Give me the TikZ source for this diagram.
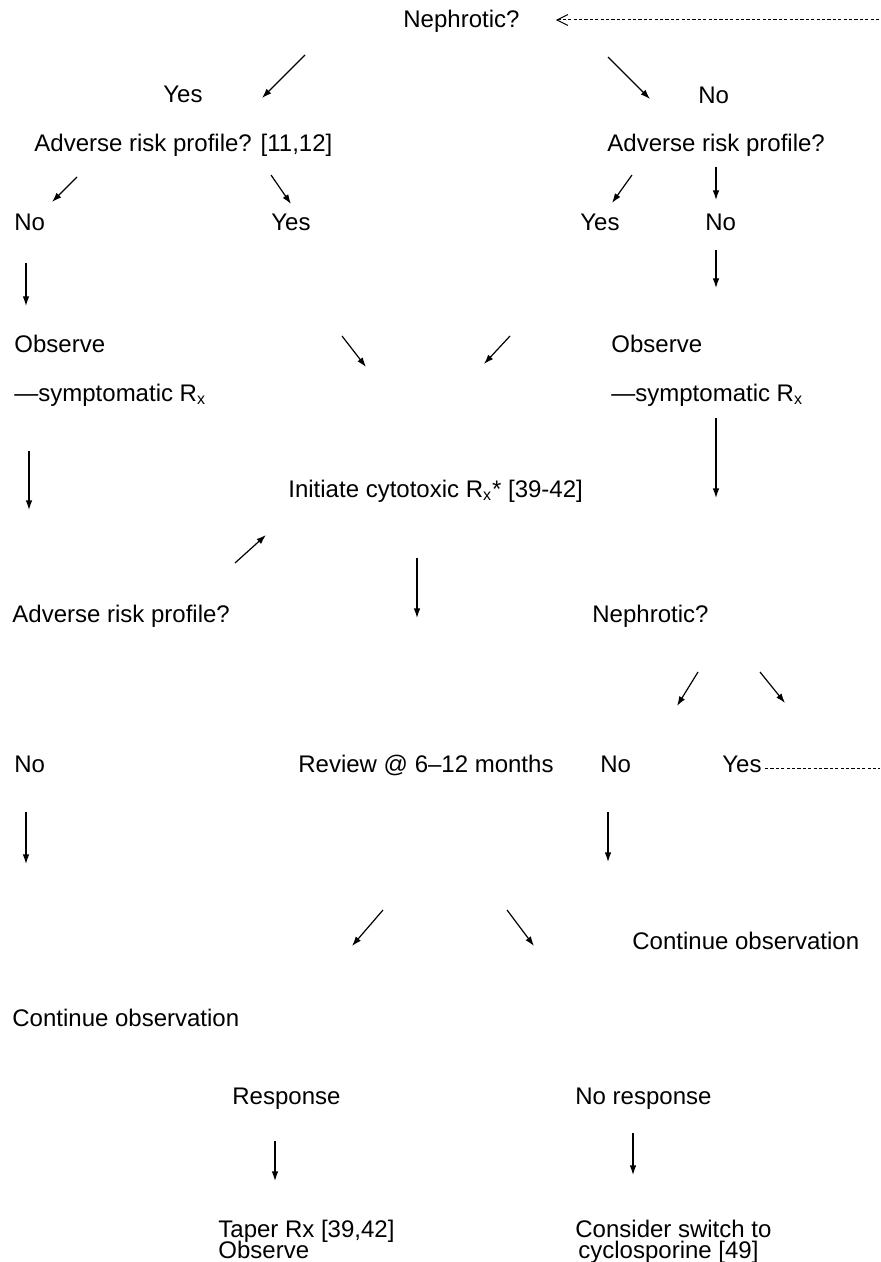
\documentclass[tikz,border=0pt]{standalone}
\usepackage{fontspec}
\setmainfont{Liberation Sans}
\usetikzlibrary{arrows.meta}
\newcommand{\Rx}{R\textsubscript{x}}
\newcommand{\tightlines}{\fontsize{12}{10.5}\selectfont\lineskiplimit=-100pt\relax}

\begin{document}
\begin{tikzpicture}[x=0.5pt,y=-0.5pt,font=\fontsize{12}{10}\selectfont,
  lbl/.style={anchor=base west,inner sep=0pt},
  twoline/.style={lbl,align=left,font=\tightlines},
  arr/.style={-{Latex[length=4.8pt,width=3.3pt]},line width=0.6pt},
  back/.style={dash pattern=on 1.6pt off 1.1pt,line width=0.5pt}]
\useasboundingbox (0,0) rectangle (880,1262);
% first question and its two branches
\node[lbl] (neph1) at (403,28) {Nephrotic?};
\node[lbl] (yes1) at (163,103) {Yes};
\node[lbl] (no1) at (698,104) {No};
\node[lbl] (advL) at (34,152) {Adverse risk profile? [11,12]};
\node[lbl] (advR) at (607,152) {Adverse risk profile?};
\node[lbl] (noL) at (14,231) {No};
\node[lbl] (yesL) at (271,231) {Yes};
\node[lbl] (yesR) at (580,231) {Yes};
\node[lbl] (noR) at (705,231) {No};
\node[lbl] (obsL) at (14,352) {Observe};
\node[lbl] (symL) at (14,401) {—symptomatic \Rx};
\node[lbl] (obsR) at (611,352) {Observe};
\node[lbl] (symR) at (611,401) {—symptomatic \Rx};
% treatment
\node[lbl] (init) at (288,497) {Initiate cytotoxic \Rx* [39-42]};
\node[lbl] (adv2) at (12,622) {Adverse risk profile?};
\node[lbl] (neph2) at (592,622) {Nephrotic?};
\node[lbl] (no3) at (14,772) {No};
\node[lbl] (review) at (298,772) {Review @ 6–12 months};
\node[lbl] (no4) at (600,772) {No};
\node[lbl] (yes4) at (722,772) {Yes};
\node[lbl] (contR) at (632,949) {Continue observation};
\node[lbl] (contL) at (12,1026) {Continue observation};
\node[lbl] (resp) at (232,1104) {Response};
\node[lbl] (noresp) at (575,1104) {No response};
\node[twoline] (taper) at (218,1258) {Taper Rx [39,42]\\Observe};
\node[twoline] (consider) at (575,1258) {Consider switch to\\\hspace*{1.5pt}cyclosporine [49]};
% arrows (tail and head as named coordinates)
\foreach \from/\to/\tx/\ty/\hx/\hy in {
  neph1/yes1/305/55/262/98, neph1/no1/608/57/650/99,
  advL/noL/77/177/52/202, advL/yesL/271/175/291/204,
  advR/yesR/632/175/612/203, advR/noR/716/167/716/200,
  noR/obsR/716/250/716/288, noL/obsL/26/263/26/306,
  yesL/init/342/336/366/367, yesR/init/510/336/484/364,
  symL/adv2/29/451/29/510, symR/neph2/716/418/716/498,
  adv2/init/235/563/266/535, init/review/417/558/417/618,
  neph2/no4/698/672/677/706, neph2/yes4/760/672/785/703,
  no3/contL/26/812/26/864, no4/contR/608/812/608/862,
  review/resp/383/910/352/946, review/noresp/507/910/534/946,
  resp/taper/275/1141/275/1181, noresp/consider/633/1133/633/1175}{
  \coordinate (\from-\to-t) at (\tx,\ty);
  \coordinate (\from-\to-h) at (\hx,\hy);
  \draw[arr] (\from-\to-t) -- (\from-\to-h);
}
% loop back to the first question
\coordinate (backR) at (880,768);
\coordinate (backT) at (880,20);
\draw[back] ([xshift=1.5pt]yes4.east |- backR) -- (backR);
\draw[back,{Straight Barb[length=5.5pt,width=5.5pt,line width=0.5pt]}-] ([xshift=18pt]neph1.east |- backT) -- (backT);
\end{tikzpicture}
\end{document}
